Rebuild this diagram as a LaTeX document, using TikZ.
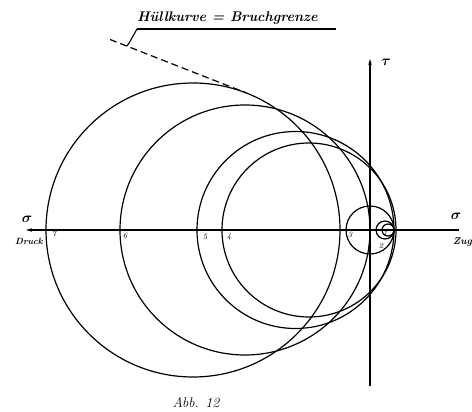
\documentclass[tikz,border=0pt]{standalone}
\usetikzlibrary{arrows.meta}
\begin{document}
\begin{tikzpicture}[x=1pt,y=-1pt,
  ink/.style={line width=1.2pt,black},
  axisline/.style={line width=1.3pt,-{Stealth[length=6pt,width=3.5pt]}},
  numlab/.style={font=\footnotesize\itshape,inner sep=0pt},
  hand/.style={font=\bfseries\itshape,inner sep=0pt}]
\useasboundingbox (0,0) rectangle (472,412);
% axes
\coordinate (xl) at (26,230);
\coordinate (xr) at (459,230);
\coordinate (yb) at (370,386);
\coordinate (yt) at (370,59);
\draw[axisline] (xr) -- (xl);
\draw[axisline] (yb) -- (yt);
% Mohr circles
\coordinate (c1) at (388,230);
\coordinate (c2) at (385,230);
\coordinate (c3) at (370,230);
\coordinate (c4) at (309,230);
\coordinate (c5) at (295.5,230);
\coordinate (c6) at (245,230);
\coordinate (c7) at (193,230);
\draw[ink] (c1) circle[radius=6pt];
\draw[ink] (c2) circle[radius=9pt];
\draw[ink] (c3) circle[radius=24pt];
\draw[ink] (c4) circle[radius=87pt];
\draw[ink] (c5) circle[radius=98.5pt];
\draw[ink] (c6) circle[radius=125pt];
\draw[ink] (c7) circle[radius=147pt];
% envelope
\coordinate (es) at (110,39.5);
\coordinate (et) at (246.8,93.1);
\draw[ink,dash pattern=on 7pt off 4pt] (es) -- (et);
% title
\node[hand,anchor=south west,font=\bfseries\itshape\fontsize{14}{14}\selectfont] (title) at (137,25) {Hüllkurve = Bruchgrenze};
\coordinate (ul) at (137,29);
\coordinate (ur) at (336,29);
\draw[line width=1.1pt] (ul) -- (ur);
\coordinate (lp) at (127,46);
\draw[line width=1.1pt] (ul) .. controls (133,36) and (130,42) .. (lp);
% axis labels
\node[font=\Large\boldmath] (sl) at (27,219) {$\sigma$};
\node[hand,font=\bfseries\itshape\small] (druck) at (29,241) {Druck};
\node[font=\Large\boldmath] (sr) at (456,216) {$\sigma$};
\node[hand,font=\bfseries\itshape\normalsize,anchor=west] (zug) at (453,242) {Zug};
\node[font=\Large\boldmath] (tau) at (386,62) {$\tau$};
% point labels
\node[numlab] (n7) at (54,234) {7};
\node[numlab] (n6) at (125,236) {6};
\node[numlab] (n5) at (205,237) {5};
\node[numlab] (n4) at (229,237) {4};
\node[numlab] (n3) at (350,235) {3};
\node[numlab] (n2) at (381,246) {2};
\node[numlab] (n1) at (385,234) {1};
% caption
\node[font=\itshape\fontsize{14}{14}\selectfont] (abb) at (196,403) {Abb. 12};
\end{tikzpicture}
\end{document}
